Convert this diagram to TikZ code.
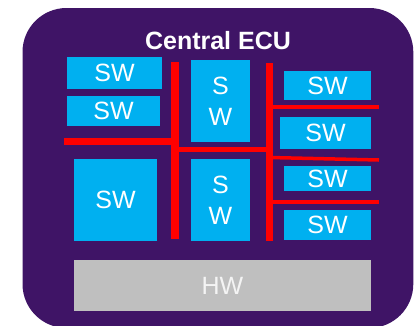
\documentclass[tikz,border=0pt]{standalone}
\usepackage{fontspec}
\setmainfont{Liberation Sans}
\definecolor{ecupurple}{HTML}{3F1466}
\definecolor{swcyan}{HTML}{00B0F0}
\definecolor{hwgrey}{HTML}{BFBFBF}
\definecolor{hwtext}{HTML}{F4F4F4}
\definecolor{busred}{HTML}{FF0000}
\begin{document}
\begin{tikzpicture}[x=1pt,y=-1pt,
  swbox/.style={fill=swcyan, draw=none, text=white, inner sep=0pt,
    font=\fontsize{25}{31}\selectfont, align=center},
  hwbox/.style={fill=hwgrey, draw=none, text=hwtext, inner sep=0pt,
    font=\fontsize{25}{31}\selectfont},
  bus/.style={draw=busred},
]
\useasboundingbox (0,0) rectangle (415,325);
\begin{scope}
\clip (0,0) rectangle (415,325);
\fill[ecupurple, rounded corners=44pt] (22.5,8) rectangle (413.3,328);
\end{scope}
\node[text=white, font=\bfseries\fontsize{25}{30}\selectfont] (title) at (218,41) {Central ECU};
% left column
\node[swbox, minimum width=95pt, minimum height=32pt] (l1) at (114.5,73) {SW};
\node[swbox, minimum width=93pt, minimum height=30pt] (l2) at (113.5,111) {SW};
\node[swbox, minimum width=83pt, minimum height=82pt] (l3) at (115.5,200) {SW};
% middle column
\node[swbox, minimum width=59pt, minimum height=82pt] (m1) at (220.5,101) {S\\W};
\node[swbox, minimum width=59pt, minimum height=82pt] (m2) at (220.5,200) {S\\W};
% right column
\node[swbox, minimum width=87pt, minimum height=29pt] (r1) at (327.5,85.5) {SW};
\node[swbox, minimum width=91pt, minimum height=32pt] (r2) at (325.5,133) {SW};
\node[swbox, minimum width=87pt, minimum height=25pt] (r3) at (327.5,178.5) {SW};
\node[swbox, minimum width=87pt, minimum height=30pt] (r4) at (327.5,225) {SW};
% hardware
\node[hwbox, minimum width=297pt, minimum height=51pt] (hw) at (222.5,285.5) {HW};
% buses
\coordinate (lvt) at (174.5,62);
\coordinate (lvb) at (174.5,239);
\coordinate (rvt) at (269.5,63);
\coordinate (rvb) at (269.5,241);
\draw[bus, line width=8pt] (lvt) -- (lvb);
\draw[bus, line width=7.5pt] (rvt) -- (rvb);
\coordinate (lh1) at (64,141);
\coordinate (lh2) at (174.5,141);
\draw[bus, line width=7pt] (lh1) -- (lh2);
\coordinate (mh1) at (174.5,149.5);
\coordinate (mh2) at (269.5,149.5);
\draw[bus, line width=4.5pt] (mh1) -- (mh2);
\coordinate (rh1a) at (269.5,107);
\coordinate (rh1b) at (379,107);
\coordinate (rh2a) at (269.5,157.5);
\coordinate (rh2b) at (379,160);
\coordinate (rh3a) at (269.5,202);
\coordinate (rh3b) at (379,202);
\draw[bus, line width=3.5pt] (rh1a) -- (rh1b);
\draw[bus, line width=3.5pt] (rh2a) -- (rh2b);
\draw[bus, line width=3.5pt] (rh3a) -- (rh3b);
\end{tikzpicture}
\end{document}
